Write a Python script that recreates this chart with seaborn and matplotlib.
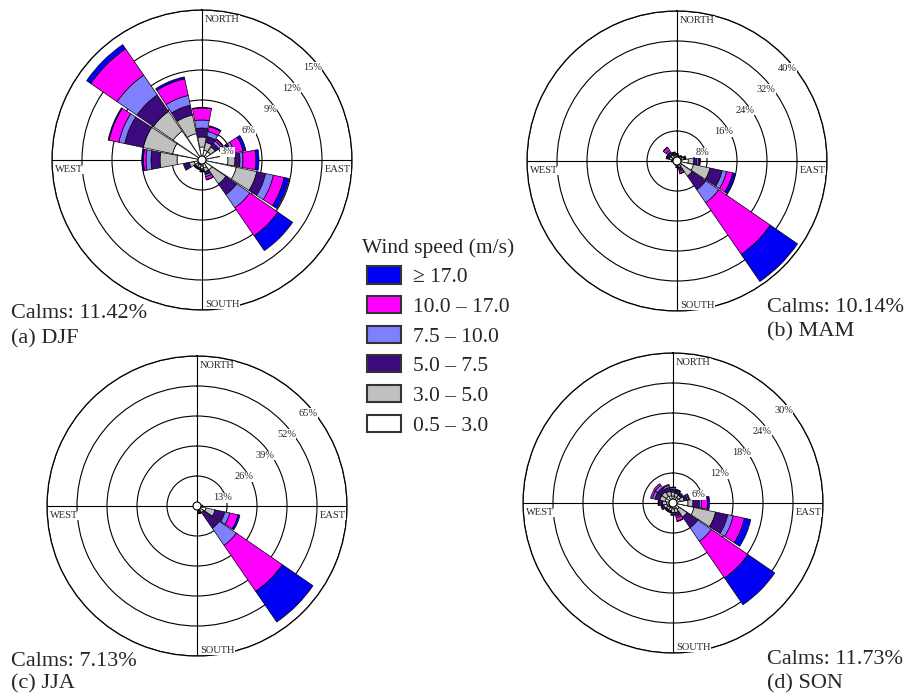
import numpy as np
import matplotlib
matplotlib.use("Agg")
import matplotlib.pyplot as plt
import seaborn as sns
from matplotlib.patches import Patch, Circle

sns.set_style("white")
plt.rcParams["font.family"] = ["Liberation Serif", "DejaVu Serif"]

# ---------------- data ----------------
directions = ["N", "NNE", "NE", "ENE", "E", "ESE", "SE", "SSE",
              "S", "SSW", "SW", "WSW", "W", "WNW", "NW", "NNW"]
direction_deg = [0, 22.5, 45, 67.5, 90, 112.5, 135, 157.5,
                 180, 202.5, 225, 247.5, 270, 292.5, 315, 337.5]
speed_labels = ["0.5 – 3.0", "3.0 – 5.0", "5.0 – 7.5",
                "7.5 – 10.0", "10.0 – 17.0", "≥ 17.0"]
speed_colors = ["#FFFFFF", "#C0C0C0", "#3C0A7C", "#8080FF", "#FF00FF", "#0000F5"]

# frequency (%) per direction; columns follow speed_labels
djf = [
    [1.3, 1.0, 0.9, 0.8, 1.2, 0.05],
    [1.0, 0.8, 0.6, 0.5, 0.5, 0.1],
    [1.0, 0.6, 0.4, 0.3, 0.2, 0.05],
    [2.0, 0.7, 0.3, 0.3, 0.9, 0.3],
    [2.6, 0.7, 0.5, 0.3, 1.3, 0.3],
    [3.5, 2.1, 0.9, 0.8, 1.1, 0.5],
    [1.2, 1.7, 1.3, 1.6, 3.4, 1.8],
    [0.8, 0.4, 0.3, 0.2, 0.3, 0.05],
    [0.6, 0.3, 0.2, 0.05, 0.05, 0.0],
    [0.5, 0.3, 0.15, 0.05, 0.0, 0.0],
    [0.5, 0.3, 0.15, 0.05, 0.0, 0.0],
    [0.8, 0.5, 0.5, 0.1, 0.0, 0.0],
    [2.5, 1.7, 0.9, 0.5, 0.25, 0.15],
    [3.0, 3.0, 1.9, 0.6, 1.0, 0.1],
    [3.5, 2.4, 2.0, 2.4, 3.2, 0.5],
    [2.7, 1.9, 1.0, 1.0, 1.7, 0.2],
]
mam = [
    [1.0, 0.6, 0.3, 0.1, 0.0, 0.0],
    [0.8, 0.4, 0.2, 0.1, 0.0, 0.0],
    [1.0, 0.5, 0.2, 0.1, 0.0, 0.0],
    [1.2, 0.7, 0.4, 0.1, 0.1, 0.0],
    [3.0, 1.5, 0.8, 0.4, 0.4, 0.1],
    [4.5, 4.5, 3.3, 1.2, 1.7, 0.7],
    [1.5, 3.4, 4.4, 4.2, 16.7, 8.8],
    [1.0, 0.8, 0.7, 0.3, 0.6, 0.1],
    [0.9, 0.5, 0.3, 0.1, 0.0, 0.0],
    [0.6, 0.4, 0.2, 0.0, 0.0, 0.0],
    [0.5, 0.3, 0.2, 0.0, 0.0, 0.0],
    [0.5, 0.3, 0.2, 0.0, 0.0, 0.0],
    [0.8, 0.4, 0.2, 0.1, 0.0, 0.0],
    [1.2, 0.9, 0.6, 0.2, 0.1, 0.0],
    [1.0, 1.0, 1.0, 0.5, 0.9, 0.1],
    [1.0, 0.7, 0.5, 0.2, 0.1, 0.0],
]
jja = [
    [0.4, 0.15, 0.05, 0.0, 0.0, 0.0],
    [0.4, 0.15, 0.05, 0.0, 0.0, 0.0],
    [0.5, 0.2, 0.1, 0.0, 0.0, 0.0],
    [0.8, 0.3, 0.1, 0.0, 0.0, 0.0],
    [1.5, 0.7, 0.3, 0.0, 0.0, 0.0],
    [4.0, 4.0, 4.3, 2.2, 3.7, 0.8],
    [1.5, 2.0, 8.2, 9.0, 24.2, 16.1],
    [1.0, 1.0, 1.2, 0.2, 0.1, 0.0],
    [0.5, 0.3, 0.2, 0.0, 0.0, 0.0],
    [0.3, 0.15, 0.05, 0.0, 0.0, 0.0],
    [0.3, 0.1, 0.0, 0.0, 0.0, 0.0],
    [0.3, 0.1, 0.0, 0.0, 0.0, 0.0],
    [0.3, 0.15, 0.05, 0.0, 0.0, 0.0],
    [0.5, 0.2, 0.1, 0.0, 0.0, 0.0],
    [0.5, 0.25, 0.15, 0.0, 0.0, 0.0],
    [0.4, 0.15, 0.05, 0.0, 0.0, 0.0],
]
son = [
    [1.4, 0.8, 0.6, 0.3, 0.1, 0.0],
    [1.3, 0.7, 0.5, 0.2, 0.1, 0.0],
    [1.3, 0.6, 0.4, 0.2, 0.0, 0.0],
    [1.5, 0.8, 0.6, 0.3, 0.2, 0.0],
    [3.0, 1.0, 1.3, 0.4, 1.2, 0.4],
    [4.3, 4.4, 2.5, 1.1, 2.3, 1.3],
    [1.5, 1.9, 2.6, 3.3, 8.9, 6.5],
    [1.2, 0.8, 0.7, 0.3, 0.7, 0.1],
    [1.2, 0.7, 0.4, 0.2, 0.0, 0.0],
    [1.0, 0.6, 0.3, 0.1, 0.0, 0.0],
    [1.0, 0.6, 0.3, 0.1, 0.0, 0.0],
    [1.2, 0.7, 0.4, 0.2, 0.0, 0.0],
    [1.3, 0.8, 0.6, 0.2, 0.1, 0.0],
    [1.6, 1.1, 1.0, 0.5, 0.4, 0.0],
    [1.6, 1.1, 1.0, 0.6, 0.4, 0.0],
    [1.5, 0.9, 0.8, 0.4, 0.2, 0.0],
]
rings_djf = [3, 6, 9, 12, 15]
rings_mam = [8, 16, 24, 32, 40]
rings_jja = [13, 26, 39, 52, 65]
rings_son = [6, 12, 18, 24, 30]
calms = [11.42, 10.14, 7.13, 11.73]
panel_tags = ["(a) DJF", "(b) MAM", "(c) JJA", "(d) SON"]

# ---------------- figure ----------------
W, H = 914, 696
fig = plt.figure(figsize=(W / 100, H / 100), dpi=100)
fig.patch.set_facecolor("white")
R = 150


def add_rose(cx, cy, data, rings):
    ax = fig.add_axes([(cx - R) / W, (H - cy - R) / H, 2 * R / W, 2 * R / H],
                      projection="polar")
    ax.set_theta_zero_location("N")
    ax.set_theta_direction(-1)
    arr = np.array(data, dtype=float)
    cum = np.cumsum(arr, axis=1)
    theta = np.deg2rad(direction_deg)
    width = np.deg2rad(21)
    for k in range(arr.shape[1]):
        m = arr[:, k] > 0
        ax.bar(theta[m], arr[m, k], width=width, bottom=(cum[:, k] - arr[:, k])[m],
               color=speed_colors[k], edgecolor="black", linewidth=0.5, zorder=2)
    ax.set_ylim(0, rings[-1])
    ax.set_yticks(rings)
    ax.set_yticklabels([])
    ax.set_xticks(np.deg2rad([0, 90, 180, 270]))
    ax.set_xticklabels([])
    ax.set_axisbelow(True)
    ax.grid(True, color="black", linewidth=0.8)
    ax.spines["polar"].set_color("black")
    ax.spines["polar"].set_linewidth(0.9)
    # ring labels
    for v in rings:
        f = v / rings[-1]
        x = 0.5 + 0.5 * f * np.sin(np.pi / 4) + 0.015
        y = 0.5 + 0.5 * f * np.cos(np.pi / 4) - 0.044
        ax.text(x, y, f"{v}%", transform=ax.transAxes, ha="center", va="center",
                fontsize=7.5, zorder=6,
                bbox=dict(facecolor="white", edgecolor="none", pad=0.3))
    bb = dict(facecolor="white", edgecolor="none", pad=0.2)
    ax.text(0.51, 0.983, "NORTH", transform=ax.transAxes, ha="left", va="top",
            fontsize=7.5, zorder=6, bbox=bb)
    ax.text(0.995, 0.483, "EAST", transform=ax.transAxes, ha="right", va="top",
            fontsize=7.5, zorder=6, bbox=bb)
    ax.text(0.01, 0.483, "WEST", transform=ax.transAxes, ha="left", va="top",
            fontsize=7.5, zorder=6, bbox=bb)
    ax.text(0.51, 0.004, "SOUTH", transform=ax.transAxes, ha="left", va="bottom",
            fontsize=7.5, zorder=6, bbox=bb)
    ax.add_patch(Circle((0.5, 0.5), 4 / 300, transform=ax.transAxes,
                        facecolor="white", edgecolor="black", linewidth=0.8,
                        zorder=5))
    return ax


add_rose(202, 160, djf, rings_djf)
add_rose(677, 161, mam, rings_mam)
add_rose(197, 506, jja, rings_jja)
add_rose(673, 503, son, rings_son)

# calms & tags
fs = 16
text_pos = [(11, 313, 339), (767, 308, 332), (11, 661, 684), (767, 660, 684)]
for (x, y1, y2), c, tag in zip(text_pos, calms, panel_tags):
    fig.text(x / W, 1 - y1 / H, f"Calms: {c:.2f}%", ha="left", va="center", fontsize=fs)
    fig.text(x / W, 1 - y2 / H, tag, ha="left", va="center", fontsize=fs)

# legend
handles = [Patch(facecolor=speed_colors[k], edgecolor="#333333", linewidth=1.5)
           for k in range(len(speed_labels))][::-1]
fig.legend(handles, speed_labels[::-1], loc="upper left",
           bbox_to_anchor=(362 / W, 1 - 238 / H), frameon=False,
           title="Wind speed (m/s)", fontsize=15.5, title_fontsize=15.5,
           handlelength=1.6, handleheight=0.85, handletextpad=0.55,
           labelspacing=0.40, borderpad=0, borderaxespad=0)

fig.savefig("out.png", dpi=100, facecolor="white")
